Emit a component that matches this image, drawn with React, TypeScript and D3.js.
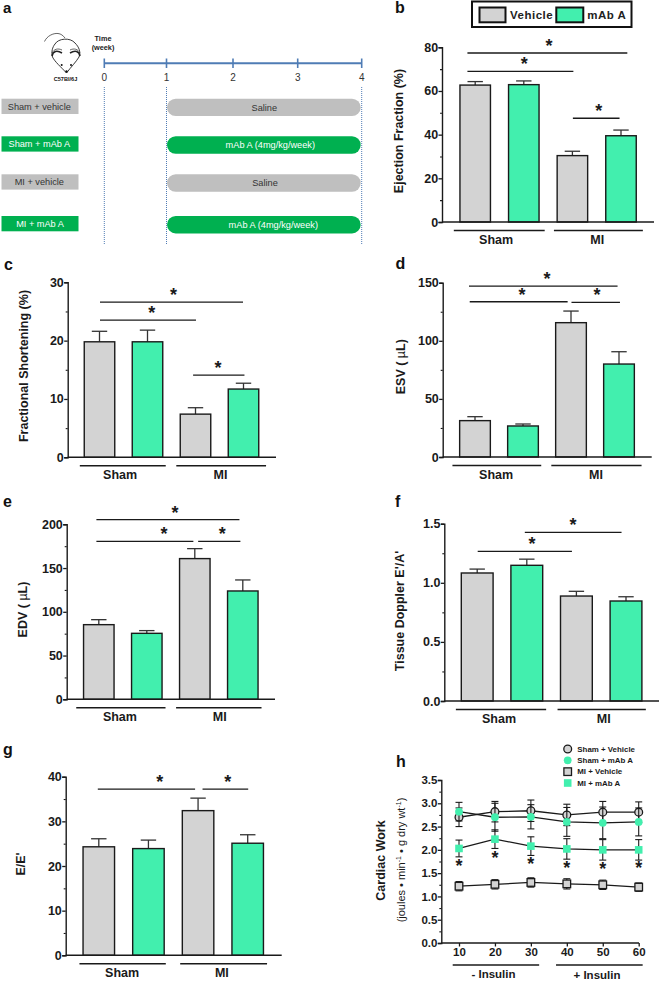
import React, { useEffect, useRef } from 'react'
import * as d3 from 'd3'

// bar values: sham vehicle, sham mAb, MI vehicle, MI mAb
const efValues = [62.7, 62.9, 30.4, 39.5]
const efTops = [64.3, 64.6, 32.4, 42.1]
const fsValues = [19.8, 19.8, 7.4, 11.7]
const fsTops = [21.6, 21.8, 8.5, 12.7]
const esvValues = [31.3, 26.7, 115.6, 80]
const esvTops = [34.7, 28.4, 125.6, 90.6]
const edvValues = [85.3, 75.4, 160.8, 123.8]
const edvTops = [91, 78.5, 172.2, 136.4]
const dopplerValues = [1.083, 1.148, 0.888, 0.846]
const dopplerTops = [1.116, 1.2, 0.928, 0.882]
const eeValues = [24.3, 23.9, 32.4, 25.1]
const eeTops = [26.1, 25.8, 35.2, 27]

const minutes = [10, 20, 30, 40, 50, 60]
const shamVehicle = [2.7, 2.82, 2.84, 2.75, 2.81, 2.81]
const shamVehicleErr = [0.2, 0.22, 0.23, 0.23, 0.23, 0.22]
const shamMab = [2.82, 2.7, 2.71, 2.6, 2.58, 2.6]
const shamMabErr = [0.2, 0.3, 0.26, 0.31, 0.34, 0.3]
const miVehicle = [1.22, 1.26, 1.3, 1.27, 1.25, 1.2]
const miVehicleErr = [0.1, 0.1, 0.1, 0.11, 0.1, 0.09]
const miMab = [2.03, 2.23, 2.08, 2.02, 2.0, 2.0]
const miMabErr = [0.18, 0.2, 0.2, 0.22, 0.22, 0.22]
const starLevels = [1.7, 1.88, 1.75, 1.66, 1.65, 1.66]

const weeks = [0, 1, 2, 3, 4]
const groupNames = ['Sham + vehicle', 'Sham + mAb A', 'MI + vehicle', 'MI + mAb A']
const treatments = ['Saline', 'mAb A (4mg/kg/week)', 'Saline', 'mAb A (4mg/kg/week)']

const GRAY = '#d3d3d3'
const MINT = '#42efae'
const INK = '#1a1a1a'
const BLUE = '#4f7cb5'
const FONT = '"Liberation Sans", Arial, sans-serif'

// layout of each bar panel. brackets are [from bar, to bar, y value, star at bar]
const panels = [
  {
    letter: 'b', lx: 395, ly: 13, values: efValues, tops: efTops, label: 'Ejection Fraction (%)', labelX: 399, labelY: 131,
    axisX: 442, right: 654, y0: 222, y1: 47.3, max: 80, ticks: [0, 20, 40, 60, 80], minor: [10, 30, 50, 70],
    c0: 475.2, c3: 621, barW: 30.5, fmt: '',
    brackets: [[-0.16, 3.13, 77.4, 1.52], [-0.16, 2.02, 69, 1.01], [2.01, 2.97, 47.5, 2.54]],
    under: [[-0.44, 1.43, 0.43], [1.62, 3.45, 2.51]],
  },
  {
    letter: 'c', lx: 4, ly: 270, values: fsValues, tops: fsTops, label: 'Fractional Shortening (%)', labelX: 24, labelY: 366,
    axisX: 67.7, right: 276, y0: 457.3, y1: 282.3, max: 30, ticks: [0, 10, 20, 30], minor: [5, 15, 25],
    c0: 99.5, c3: 243.5, barW: 30.5, fmt: '',
    brackets: [[0.01, 2.99, 26.6, 1.54], [0.01, 2.01, 23.5, 1.09], [1.95, 3.02, 14.1, 2.47]],
    under: [[-0.41, 1.38, 0.43], [1.6, 3.47, 2.52]],
  },
  {
    letter: 'd', lx: 395.5, ly: 269, values: esvValues, tops: esvTops, label: 'ESV', unit: true, labelX: 400.5, labelY: 366.7,
    axisX: 442.7, right: 651.7, y0: 457, y1: 282.7, max: 150, ticks: [0, 50, 100, 150], minor: [25, 75, 125],
    c0: 475, c3: 619, barW: 30.7, fmt: '',
    brackets: [[-0.125, 2.97, 147.1, 1.5], [-0.11, 1.93, 133.6, 0.98], [2.01, 3.02, 133, 2.54]],
    under: [[-0.47, 1.38, 0.44], [1.59, 3.47, 2.52]],
  },
  {
    letter: 'e', lx: 3, ly: 506.7, values: edvValues, tops: edvTops, label: 'EDV', unit: true, labelX: 22.7, labelY: 609.5,
    axisX: 66.7, right: 275, y0: 699.3, y1: 524.3, max: 200, ticks: [0, 50, 100, 150, 200], minor: [25, 75, 125, 175],
    c0: 98.8, c3: 242.8, barW: 30.5, fmt: '',
    brackets: [[-0.05, 2.93, 205.3, 1.59], [-0.05, 1.97, 180.6, 1.36], [2.07, 2.95, 180.6, 2.57]],
    under: [[-0.47, 1.39, 0.44], [1.61, 3.39, 2.52]],
  },
  {
    letter: 'f', lx: 395, ly: 506.7, values: dopplerValues, tops: dopplerTops, label: "Tissue Doppler E'/A'", labelX: 400, labelY: 611,
    axisX: 444.3, right: 659, y0: 701, y1: 523.7, max: 1.5, ticks: [0, 0.5, 1, 1.5], minor: [0.25, 0.75, 1.25],
    c0: 477.2, c3: 626, barW: 31.8, fmt: '.1f',
    brackets: [[0.96, 2.91, 1.427, 1.93], [0.01, 1.91, 1.266, 1.105]],
    under: [[-0.43, 1.39, 0.44], [1.62, 3.4, 2.55]],
  },
  {
    letter: 'g', lx: 3, ly: 755, values: eeValues, tops: eeTops, label: "E/E'", labelX: 20.7, labelY: 864,
    axisX: 65.7, right: 281.7, y0: 955.3, y1: 776.7, max: 40, ticks: [0, 10, 20, 30, 40], minor: [5, 15, 25, 35],
    c0: 98.8, c3: 247.7, barW: 31.5, fmt: '',
    brackets: [[-0.02, 1.94, 37.2, 1.23], [2.09, 3.01, 37.2, 2.6]],
    under: [[-0.39, 1.35, 0.47], [1.64, 3.39, 2.48]],
  },
]

type Sel = d3.Selection<any, any, any, any>

function txt(g: Sel, x: number, y: number, s: string, size: number, opts: any = {}) {
  return g.append('text')
    .attr('x', x).attr('y', y)
    .attr('font-family', FONT)
    .attr('font-size', size)
    .attr('font-weight', opts.weight || 'bold')
    .attr('fill', opts.fill || INK)
    .attr('text-anchor', opts.anchor || 'middle')
    .text(s)
}

function star(g: Sel, x: number, y: number) {
  // y is the centre of the glyph, the asterisk sits high in its em box
  return txt(g, x, y + 8.4, '*', 18, { weight: 'bold', fill: INK })
}

function yAxis(g: Sel, y: any, x: number, ticks: number[], minor: number[], fmt: string, size: number) {
  const major = g.append('g').attr('transform', `translate(${x},0)`)
    .call(d3.axisLeft(y).tickValues(ticks).tickSize(3.5).tickPadding(0.4).tickFormat((d: any) => fmt ? d3.format(fmt)(d) : String(d)))
  major.selectAll('path').attr('stroke', INK).attr('stroke-width', 1.4)
  major.selectAll('line').attr('stroke', INK).attr('stroke-width', 1.3)
  major.selectAll('text').attr('font-family', FONT).attr('font-size', size).attr('font-weight', 'bold').attr('fill', INK)
  const small = g.append('g').attr('transform', `translate(${x},0)`)
    .call(d3.axisLeft(y).tickValues(minor).tickSize(2).tickFormat(() => ''))
  small.select('path').remove()
  small.selectAll('line').attr('stroke', INK).attr('stroke-width', 1.1)
}

function hline(g: Sel, x1: number, x2: number, y: number, w = 1.4) {
  g.append('line').attr('x1', x1).attr('x2', x2).attr('y1', y).attr('y2', y).attr('stroke', INK).attr('stroke-width', w)
}

function drawBars(svg: Sel, p: any) {
  const g = svg.append('g')
  const x = d3.scaleLinear().domain([0, 3]).range([p.c0, p.c3])
  const y = d3.scaleLinear().domain([0, p.max]).range([p.y0, p.y1])

  txt(g, p.lx, p.ly, p.letter, 16, { anchor: 'start', fill: '#111' })

  const marks = g.selectAll('g.bar').data(p.values).join('g').attr('class', 'bar')
  marks.append('line')
    .attr('x1', (_: any, i: number) => x(i)).attr('x2', (_: any, i: number) => x(i))
    .attr('y1', (d: any) => y(d)).attr('y2', (_: any, i: number) => y(p.tops[i]))
    .attr('stroke', '#333').attr('stroke-width', 1.3)
  marks.append('line')
    .attr('x1', (_: any, i: number) => x(i) - 7.7).attr('x2', (_: any, i: number) => x(i) + 7.7)
    .attr('y1', (_: any, i: number) => y(p.tops[i])).attr('y2', (_: any, i: number) => y(p.tops[i]))
    .attr('stroke', '#333').attr('stroke-width', 1.3)
  marks.append('rect')
    .attr('x', (_: any, i: number) => x(i) - p.barW / 2)
    .attr('y', (d: any) => y(d))
    .attr('width', p.barW)
    .attr('height', (d: any) => p.y0 - y(d))
    .attr('fill', (_: any, i: number) => (i % 2 ? MINT : GRAY))
    .attr('stroke', INK).attr('stroke-width', 1.4)

  yAxis(g, y, p.axisX, p.ticks, p.minor, p.fmt, 12.5)
  hline(g, p.axisX, p.right, p.y0)

  p.brackets.forEach((b: number[]) => {
    hline(g, x(b[0]), x(b[1]), y(b[2]), 1.3)
    star(g, x(b[3]), y(b[2]) - 9.5)
  })
  p.under.forEach((u: number[], i: number) => {
    hline(g, x(u[0]), x(u[1]), p.y0 + 8.4, 1.5)
    txt(g, x(u[2]), p.y0 + 22, i ? 'MI' : 'Sham', 12.5)
  })

  const label = txt(g, p.labelX, p.labelY, p.label, 12.5)
    .attr('transform', `rotate(-90 ${p.labelX} ${p.labelY})`)
    .attr('dy', '0.35em')
  if (p.unit) {
    label.append('tspan').text(' ( ')
    label.append('tspan').attr('font-weight', 'normal').text('µ')
    label.append('tspan').text('L)')
  }
}

function drawTimeline(svg: Sel) {
  const g = svg.append('g')
  txt(g, 3, 12.8, 'a', 15, { anchor: 'start', fill: '#111' })

  const x = d3.scaleLinear().domain(weeks).range([104.3, 166.5, 233, 297.7, 361.7])
  g.append('line').attr('x1', x(0)).attr('x2', x(4)).attr('y1', 63.3).attr('y2', 63.3).attr('stroke', BLUE).attr('stroke-width', 2)
  weeks.forEach((w) => {
    g.append('line').attr('x1', x(w)).attr('x2', x(w)).attr('y1', 58.5).attr('y2', 68).attr('stroke', BLUE).attr('stroke-width', 1.6)
    txt(g, x(w), 81, String(w), 10, { weight: 'normal', fill: '#333' })
  })
  ;[0, 1, 4].forEach((w) => {
    g.append('line').attr('x1', x(w)).attr('x2', x(w)).attr('y1', 87).attr('y2', 245)
      .attr('stroke', BLUE).attr('stroke-width', 1).attr('stroke-dasharray', '1 1')
  })
  txt(g, 103, 40.7, 'Time', 7.3, { fill: '#222' })
  txt(g, 103, 49.5, '(week)', 7.3, { fill: '#222' })

  const rowTop = [98.7, 136.3, 174.3, 216]
  const labelCx = [39.3, 39.3, 39.3, 40]
  const barCx = [264.3, 270.3, 265, 273.3]
  groupNames.forEach((name, i) => {
    const fill = i % 2 ? '#00b050' : '#bfbfbf'
    const ink = i % 2 ? '#fff' : '#333'
    g.append('rect').attr('x', 1.5).attr('y', rowTop[i]).attr('width', 77).attr('height', 15.3).attr('fill', fill)
    txt(g, labelCx[i], rowTop[i] + 11, name, 9.2, { weight: 'normal', fill: ink })
    g.append('rect').attr('x', 167).attr('y', rowTop[i]).attr('width', 193.7).attr('height', 17.4).attr('rx', 8.7).attr('fill', fill)
    txt(g, barCx[i], rowTop[i] + 12, treatments[i], 9.2, { weight: 'normal', fill: ink })
  })

  // mouse sketch
  const m = g.append('g').attr('fill', 'none').attr('stroke', '#222')
  m.append('path').attr('d', 'M44.5,41.5 C47,36 53,33 58,33.5 C61,33.8 63,35.5 65,38').attr('stroke-width', 0.7)
  m.append('path').attr('stroke-width', 0.9)
    .attr('d', 'M55,44 C58,38.5 70,37 75,43 C79,47 81,52 79,57 C76,62 71,67 66.5,73 C61,67 55,62 52.5,57 C51,52 52.5,47 55,44 Z')
    .attr('fill', '#fff')
  m.append('path').attr('stroke-width', 1.6).attr('d', 'M52,56 C53,51 57,50 62,53')
  m.append('path').attr('stroke-width', 1.6).attr('d', 'M80,56 C79,51 75,50 70,53')
  m.append('path').attr('stroke-width', 0.7).attr('d', 'M52,53 C54,49 58,48 62,50')
  m.append('path').attr('stroke-width', 0.7).attr('d', 'M80,53 C78,49 74,48 70,50')
  m.append('circle').attr('cx', 61.7).attr('cy', 65).attr('r', 1).attr('fill', '#111').attr('stroke', 'none')
  m.append('circle').attr('cx', 71).attr('cy', 65).attr('r', 1).attr('fill', '#111').attr('stroke', 'none')
  m.append('circle').attr('cx', 66.5).attr('cy', 71.5).attr('r', 1.2).attr('fill', '#111').attr('stroke', 'none')
  txt(g, 65.5, 80.5, 'C57Bl/6J', 5.6, { fill: '#111' })
}

function drawLegend(svg: Sel) {
  const g = svg.append('g')
  g.append('rect').attr('x', 472).attr('y', 1.5).attr('width', 159.5).attr('height', 25.5).attr('fill', '#fff').attr('stroke', '#111').attr('stroke-width', 2)
  g.append('rect').attr('x', 479.5).attr('y', 7.5).attr('width', 26).attr('height', 14.8).attr('fill', GRAY).attr('stroke', '#111').attr('stroke-width', 2)
  g.append('rect').attr('x', 556.3).attr('y', 7.5).attr('width', 27).attr('height', 14.8).attr('fill', MINT).attr('stroke', '#111').attr('stroke-width', 2)
  txt(g, 510, 19, 'Vehicle', 11.5, { anchor: 'start', fill: '#222' }).attr('letter-spacing', 0.5)
  txt(g, 587.3, 19, 'mAb A', 11.5, { anchor: 'start', fill: '#222' }).attr('letter-spacing', 0.5)
}

function drawLines(svg: Sel) {
  const g = svg.append('g')
  txt(g, 396, 766.7, 'h', 16, { anchor: 'start', fill: '#111' })

  const x = d3.scaleLinear().domain([10, 60]).range([459, 638.7])
  const y = d3.scaleLinear().domain([0, 3.5]).range([943, 780])
  const line = d3.line<number>().x((_, i) => x(minutes[i])).y((d) => y(d))

  const series = [
    { name: 'Sham + Vehicle', values: shamVehicle, err: shamVehicleErr, fill: GRAY, square: false, edge: true },
    { name: 'Sham + mAb A', values: shamMab, err: shamMabErr, fill: MINT, square: false, edge: false },
    { name: 'MI + Vehicle', values: miVehicle, err: miVehicleErr, fill: GRAY, square: true, edge: true },
    { name: 'MI + mAb A', values: miMab, err: miMabErr, fill: MINT, square: true, edge: false },
  ]

  const marker = (sel: Sel, s: any, cx: number, cy: number) => {
    const mark = s.square
      ? sel.append('rect').attr('x', cx - 3.8).attr('y', cy - 3.8).attr('width', 7.6).attr('height', 7.6)
      : sel.append('circle').attr('cx', cx).attr('cy', cy).attr('r', 3.9)
    mark.attr('fill', s.fill).attr('stroke', s.edge ? INK : 'none').attr('stroke-width', 1.3)
  }

  series.forEach((s) => {
    const sg = g.append('g')
    s.values.forEach((v, i) => {
      const px = x(minutes[i])
      const hi = y(v + s.err[i])
      const lo = y(v - s.err[i])
      sg.append('line').attr('x1', px).attr('x2', px).attr('y1', hi).attr('y2', lo).attr('stroke', INK).attr('stroke-width', 1.1)
      sg.append('line').attr('x1', px - 3.5).attr('x2', px + 3.5).attr('y1', hi).attr('y2', hi).attr('stroke', INK).attr('stroke-width', 1.1)
      sg.append('line').attr('x1', px - 3.5).attr('x2', px + 3.5).attr('y1', lo).attr('y2', lo).attr('stroke', INK).attr('stroke-width', 1.1)
    })
    sg.append('path').attr('d', line(s.values)).attr('fill', 'none').attr('stroke', INK).attr('stroke-width', 1.3)
    s.values.forEach((v, i) => marker(sg, s, x(minutes[i]), y(v)))
  })

  starLevels.forEach((v, i) => star(g, x(minutes[i]), y(v)))

  yAxis(g, y, 441.3, [0, 0.5, 1, 1.5, 2, 2.5, 3, 3.5], [0.25, 0.75, 1.25, 1.75, 2.25, 2.75, 3.25], '.1f', 11.5)

  const xa = g.append('g').attr('transform', 'translate(0,943)')
    .call(d3.axisBottom(x).tickValues(minutes).tickSize(3.5).tickPadding(1.8).tickFormat((d: any) => String(d)))
  xa.select('path').remove()
  xa.selectAll('line').attr('stroke', INK).attr('stroke-width', 1.3)
  xa.selectAll('text').attr('font-family', FONT).attr('font-size', 11.5).attr('font-weight', 'bold').attr('fill', INK)
  hline(g, 441.3, 639, 943)

  hline(g, x(8.25), x(32.3), 965, 1.5)
  hline(g, x(37), x(61.1), 965, 1.5)
  txt(g, x(19.6), 978, '- Insulin', 11.5)
  txt(g, 597, 979, '+ Insulin', 11.5)

  txt(g, 380.7, 860.5, 'Cardiac Work', 12.5).attr('transform', 'rotate(-90 380.7 860.5)').attr('dy', '0.35em')
  const unit = txt(g, 400.7, 860, '', 11, { weight: 'normal' }).attr('transform', 'rotate(-90 400.7 860)').attr('dy', '0.35em')
  unit.append('tspan').text('(joules • min')
  unit.append('tspan').attr('font-size', 7).attr('dy', -4).text('-1')
  unit.append('tspan').attr('dy', 4).text(' • g dry wt')
  unit.append('tspan').attr('font-size', 7).attr('dy', -4).text('-1')
  unit.append('tspan').attr('dy', 4).text(')')

  const rowY = d3.scalePoint<string>().domain(series.map((s) => s.name)).range([749, 783])
  series.forEach((s) => {
    marker(g, s, 567.7, rowY(s.name) as number)
    txt(g, 577.3, (rowY(s.name) as number) + 2.8, s.name, 7.9, { anchor: 'start' })
  })
}

export default function App() {
  const svgRef = useRef<SVGSVGElement>(null)

  useEffect(() => {
    const svg = d3.select(svgRef.current)
    svg.selectAll('*').remove()
    drawTimeline(svg)
    drawLegend(svg)
    panels.forEach((p) => drawBars(svg, p))
    drawLines(svg)
  }, [])

  return (
    <svg ref={svgRef} width={661} height={981} viewBox="0 0 661 981"
      style={{ position: 'absolute', left: 0, top: 0, background: '#fff' }} />
  )
}
